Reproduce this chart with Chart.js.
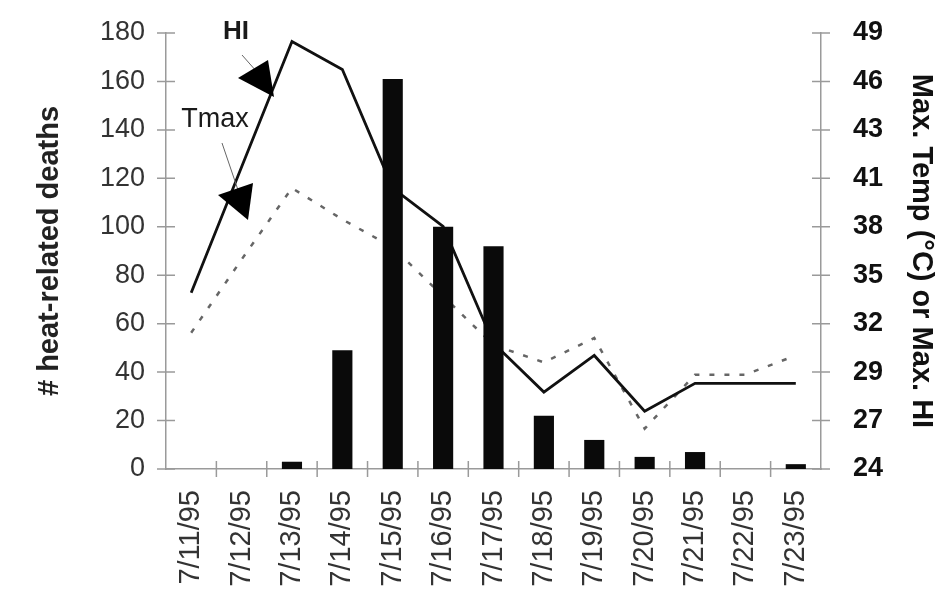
<!DOCTYPE html>
<html lang="en">
<head>
    <meta charset="UTF-8">
    <title>Heat-related deaths, July 1995</title>
    <script src="https://cdn.jsdelivr.net/npm/chart.js"></script>
    <style>
        body { margin: 0; background: #fff; }
        canvas { display: block; background: #fff; }
    </style>
</head>
<body>
    <canvas id="heatChart" width="939" height="598"></canvas>
    <script>
        // dates on the x axis
        const days = ['7/11/95', '7/12/95', '7/13/95', '7/14/95', '7/15/95', '7/16/95', '7/17/95',
                      '7/18/95', '7/19/95', '7/20/95', '7/21/95', '7/22/95', '7/23/95'];
        // bars: number of heat-related deaths
        const deaths = [0, 0, 3, 49, 161, 100, 92, 22, 12, 5, 7, 0, 2];
        // lines, in deg C
        const heatIndex = [34.0, 41.2, 48.4, 46.8, 40.0, 37.8, 31.1, 28.3, 30.4, 27.2, 28.8, 28.8, 28.8];
        const tmax = [31.7, 35.9, 40.0, 38.2, 36.6, 33.8, 31.0, 30.0, 31.4, 26.2, 29.3, 29.3, 30.4];
        // right axis: ticks sit every 5 F, labelled in rounded C
        const rightTicksF = [75, 80, 85, 90, 95, 100, 105, 110, 115, 120];
        const rightTickLabels = ['24', '27', '29', '32', '35', '38', '41', '43', '46', '49'];

        const toC = f => (f - 32) * 5 / 9;
        const axisGray = '#9a9a9a';
        const sans = '"Liberation Sans", Arial, sans-serif';

        // short tick marks that cross the axis lines
        const crossTicks = {
            id: 'crossTicks',
            afterDraw(chart) {
                const {ctx, chartArea, scales} = chart;
                ctx.save();
                ctx.strokeStyle = axisGray;
                ctx.lineWidth = 1.5;
                ctx.beginPath();
                scales.y.ticks.forEach(t => {
                    const y = scales.y.getPixelForValue(t.value);
                    ctx.moveTo(chartArea.left - 9, y);
                    ctx.lineTo(chartArea.left + 9, y);
                });
                scales.y2.ticks.forEach(t => {
                    const y = scales.y2.getPixelForValue(t.value);
                    ctx.moveTo(chartArea.right - 9, y);
                    ctx.lineTo(chartArea.right + 9, y);
                });
                for (let i = 1; i < days.length; i++) {
                    const x = (scales.x.getPixelForValue(i - 1) + scales.x.getPixelForValue(i)) / 2;
                    ctx.moveTo(x, chartArea.bottom - 8);
                    ctx.lineTo(x, chartArea.bottom + 8);
                }
                ctx.stroke();
                ctx.restore();
            }
        };

        // "HI" and "Tmax" labels with their arrow heads
        const arrowNotes = {
            id: 'arrowNotes',
            afterDraw(chart) {
                const ctx = chart.ctx;
                const tri = (a, b, c) => {
                    ctx.beginPath();
                    ctx.moveTo(a[0], a[1]); ctx.lineTo(b[0], b[1]); ctx.lineTo(c[0], c[1]);
                    ctx.closePath();
                    ctx.fill();
                };
                ctx.save();
                ctx.fillStyle = '#1a1a1a';
                ctx.textAlign = 'center';
                ctx.textBaseline = 'middle';
                ctx.font = 'bold 26px ' + sans;
                ctx.fillText('HI', 236, 32);
                ctx.font = '27px ' + sans;
                ctx.fillText('Tmax', 215, 120);

                ctx.strokeStyle = '#666';
                ctx.lineWidth = 1;
                ctx.beginPath();
                ctx.moveTo(242, 55); ctx.lineTo(257, 72);
                ctx.moveTo(222, 143); ctx.lineTo(238, 190);
                ctx.stroke();

                ctx.fillStyle = '#000';
                tri([238, 78], [268, 60], [274, 97]);
                tri([218, 195], [253, 183], [248, 220]);
                ctx.restore();
            }
        };

        // fixed axis sizes, no extra room for the end labels
        const fitY = width => s => {
            s.width = width;
            s.paddingTop = 0;
            s.paddingBottom = 0;
        };

        new Chart(document.getElementById('heatChart'), {
            type: 'bar',
            data: {
                labels: days,
                datasets: [
                    {
                        label: 'Deaths',
                        data: deaths,
                        backgroundColor: '#0a0a0a',
                        barPercentage: 0.4,
                        categoryPercentage: 1,
                        yAxisID: 'y',
                        order: 0
                    },
                    {
                        type: 'line',
                        label: 'HI',
                        data: heatIndex,
                        borderColor: '#111',
                        borderWidth: 2.8,
                        pointRadius: 0,
                        tension: 0,
                        yAxisID: 'y2',
                        order: 1
                    },
                    {
                        type: 'line',
                        label: 'Tmax',
                        data: tmax,
                        borderColor: '#666',
                        borderWidth: 2.5,
                        borderDash: [5, 10],
                        pointRadius: 0,
                        tension: 0,
                        yAxisID: 'y2',
                        order: 2
                    }
                ]
            },
            options: {
                responsive: false,
                animation: false,
                layout: { padding: { top: 33, left: 0, right: 0, bottom: 0 } },
                plugins: {
                    legend: { display: false },
                    tooltip: { enabled: false }
                },
                scales: {
                    x: {
                        grid: { display: false },
                        border: { color: axisGray, width: 1.5 },
                        ticks: {
                            minRotation: 90,
                            maxRotation: 90,
                            padding: 13,
                            color: '#333',
                            font: { family: sans, size: 29 }
                        },
                        afterFit: s => {
                            s.height = 129;
                            s.paddingLeft = 0;
                            s.paddingRight = 0;
                        }
                    },
                    y: {
                        position: 'left',
                        min: 0,
                        max: 180,
                        grid: { display: false },
                        border: { color: axisGray, width: 1.5 },
                        ticks: {
                            stepSize: 20,
                            padding: 13,
                            color: '#333',
                            font: { family: sans, size: 27 }
                        },
                        title: {
                            display: true,
                            text: '# heat-related deaths',
                            color: '#222',
                            padding: { top: 33, bottom: 0 },
                            font: { family: sans, size: 29, weight: 'bold' }
                        },
                        afterFit: fitY(166)
                    },
                    y2: {
                        position: 'right',
                        min: toC(rightTicksF[0]),
                        max: toC(rightTicksF[rightTicksF.length - 1]),
                        grid: { display: false },
                        border: { color: axisGray, width: 1.5 },
                        afterBuildTicks: axis => {
                            axis.ticks = rightTicksF.map(f => ({ value: toC(f) }));
                        },
                        ticks: {
                            padding: 24,
                            color: '#111',
                            font: { family: sans, size: 27, weight: 'bold' },
                            callback: (value, index) => rightTickLabels[index]
                        },
                        title: {
                            display: true,
                            text: 'Max. Temp (°C) or Max. HI',
                            color: '#111',
                            padding: { top: 1, bottom: 0 },
                            font: { family: sans, size: 29, weight: 'bold' }
                        },
                        afterFit: fitY(118)
                    }
                }
            },
            plugins: [crossTicks, arrowNotes]
        });
    </script>
</body>
</html>
